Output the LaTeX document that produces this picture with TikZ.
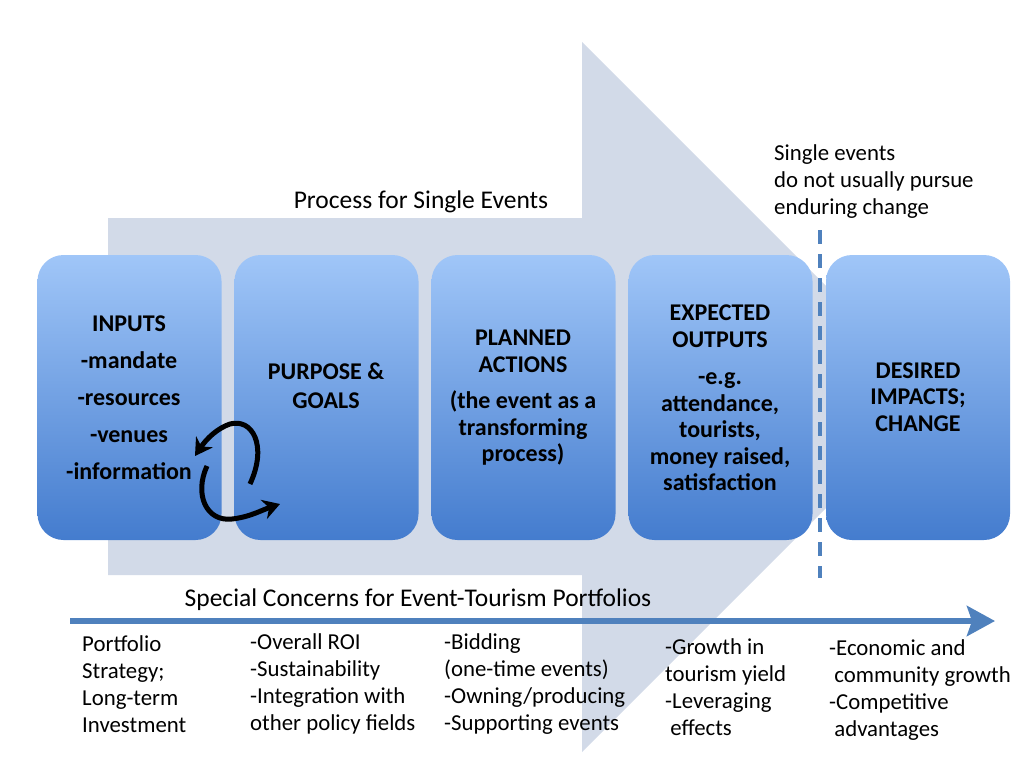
\documentclass[tikz,border=0pt]{standalone}
\usepackage{fontspec}
\setmainfont{Carlito}
\usetikzlibrary{arrows.meta}
\definecolor{bigarrow}{RGB}{210,218,232}
\definecolor{boxtop}{RGB}{160,198,248}
\definecolor{boxbot}{RGB}{68,124,206}
\definecolor{lineblue}{RGB}{79,129,189}
\tikzset{
  procbox/.style={rounded corners=26pt, top color=boxtop, bottom color=boxbot, draw=none,
    minimum width=184pt, minimum height=285pt, inner sep=0pt},
  boxtext/.style={align=center, font=\bfseries\fontsize{24}{26.5}\selectfont, text=black},
  plain/.style={align=left, font=\fontsize{22.8}{27}\selectfont, text=black, inner sep=0pt},
  cycarrow/.style={line width=5pt, black, -{Stealth[length=17pt,width=20pt]}}
}
\begin{document}
\begin{tikzpicture}[x=1pt,y=-1pt]
\useasboundingbox (0,0) rectangle (1024,768);
% big background arrow
\fill[bigarrow] (108,218) -- (582,218) -- (582,42) -- (937,397) -- (582,752) -- (582,575) -- (108,575) -- cycle;
% title texts
\node[plain, anchor=center, font=\fontsize{25.5}{30}\selectfont] (proc) at (421,202) {Process for Single Events};
\node[plain, anchor=west] (single) at (774,182) {Single events\\do not usually pursue\\enduring change};
% boxes
\node[procbox] (b1) at (129.5,397.5) {};
\node[procbox] (b2) at (326.5,397.5) {};
\node[procbox] (b3) at (523.5,397.5) {};
\node[procbox] (b4) at (720.5,397.5) {};
\node[procbox] (b5) at (918,397.5) {};
% box texts
\node[boxtext, font=\bfseries\fontsize{24}{37}\selectfont] (t1) at (129,398) {INPUTS\\-mandate\\-resources\\-venues\\-information};
\node[boxtext, font=\bfseries\fontsize{24}{29}\selectfont] (t2) at (326,386) {PURPOSE \&\\GOALS};
\node[boxtext] (t3) at (523,398) {PLANNED\\ACTIONS\\[10pt](the event as a\\transforming\\process)};
\node[boxtext] (t4) at (720,398) {EXPECTED\\OUTPUTS\\[11pt]-e.g.\\attendance,\\tourists,\\money raised,\\satisfaction};
\node[boxtext] (t5) at (918,397) {DESIRED\\IMPACTS;\\CHANGE};
% dashed divider
\coordinate (dtop) at (820,230);
\coordinate (dbot) at (820,578);
\draw[lineblue, line width=4pt, dash pattern=on 14pt off 10pt] (dtop) -- (dbot);
% cycle arrows between inputs and purpose
\coordinate (c1s) at (250,484);
\coordinate (c1e) at (195,456);
\coordinate (c2s) at (207,466);
\coordinate (c2e) at (280,504);
\draw[cycarrow] (c1s) .. controls (268,445) and (252,418) .. (230,424) .. controls (218,428) and (207,438) .. (c1e);
\draw[cycarrow] (c2s) .. controls (194,494) and (206,522) .. (232,519) .. controls (250,517) and (262,510) .. (c2e);
% bottom section
\node[plain, anchor=center, font=\fontsize{25.5}{30}\selectfont] (spec) at (418,600) {Special Concerns for Event-Tourism Portfolios};
\coordinate (as) at (70,621);
\coordinate (ae) at (995,621);
\draw[lineblue, line width=6pt, -{Stealth[length=28pt,width=30pt,inset=5pt]}] (as) -- (ae);
\node[plain, anchor=west] (col1) at (82,684) {Portfolio\\Strategy;\\Long-term\\Investment};
\node[plain, anchor=west] (col2) at (250,684) {-Overall ROI\\-Sustainability\\-Integration with\\other policy fields};
\node[plain, anchor=west] (col3) at (444,684) {-Bidding\\(one-time events)\\-Owning/producing\\-Supporting events};
\node[plain, anchor=west] (col4) at (665,687) {-Growth in\\tourism yield\\-Leveraging\\\ effects};
\node[plain, anchor=west] (col5) at (829,690) {-Economic and\\\ community growth\\-Competitive\\\ advantages};
\end{tikzpicture}
\end{document}
